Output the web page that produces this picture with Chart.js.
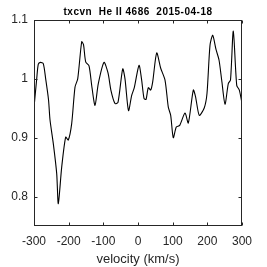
<!DOCTYPE html>
<html>
<head>
<meta charset="utf-8">
<script src="https://cdn.jsdelivr.net/npm/chart.js@4.4.1/dist/chart.umd.min.js"></script>
<style>
  html, body { margin: 0; padding: 0; background: #fff; }
  #wrap { width: 267px; height: 267px; }
</style>
</head>
<body>
<div id="wrap"><canvas id="spec" width="267" height="267"></canvas></div>
<script>
// He II 4686 profile
const velocity = [
  -298.6, -292.2, -287.6, -281.3, -273.2, -266.3, -258.2, -253.8, -244.3, -234.5,
  -229.9, -220.1, -208.6, -201.1, -191.3, -181.7, -173.9, -162.4, -157.2, -150.9,
  -141.3, -132.7, -124.0, -114.5, -98.1, -86.5, -77.9, -66.4, -57.7, -44.1,
  -37.5, -27.4, -18.2, -10.7, 2.9, 10.1, 17.3, 23.1, 29.7, 36.6,
  42.4, 53.9, 65.5, 77.9, 87.4, 94.3, 101.8, 110.5, 120.3, 135.6,
  145.1, 159.5, 165.9, 176.8, 191.3, 199.0, 207.7, 215.5, 225.0, 233.7,
  241.4, 251.0, 260.5, 266.8, 274.9, 284.8, 292.3, 299.2
];
const flux = [
  0.960, 1.000, 1.025, 1.028, 1.026, 1.000, 0.965, 0.930, 0.890, 0.839,
  0.788, 0.850, 0.901, 0.896, 0.924, 0.986, 1.000, 1.063, 1.058, 1.029,
  1.022, 0.985, 0.955, 0.992, 1.028, 1.010, 0.980, 0.958, 0.960, 1.017,
  1.000, 0.946, 0.972, 0.985, 1.023, 1.000, 0.967, 0.965, 0.985, 0.981,
  0.995, 1.044, 1.018, 0.998, 0.952, 0.938, 0.900, 0.918, 0.921, 0.942,
  0.925, 0.981, 0.970, 0.938, 0.951, 0.975, 1.057, 1.074, 1.050, 1.032,
  0.998, 0.957, 0.992, 0.998, 1.081, 0.989, 0.981, 0.961
];
const xTicks = [-300, -200, -100, 0, 100, 200, 300];
const yTicks = [0.8, 0.9, 1, 1.1];
const titleText = 'txcvn  He II 4686  2015-04-18';

const axisColor = '#262626';
const fontFamily = '"Liberation Sans", Arial, sans-serif';

// MATLAB style box with inward ticks on all four sides, plus the title
const boxTicks = {
  id: 'boxTicks',
  afterDraw(chart) {
    const { ctx, chartArea: a, scales } = chart;
    const L = Math.round(a.left) + 0.5, R = Math.round(a.right) - 0.5;
    const T = Math.round(a.top) + 0.5, B = Math.round(a.bottom) - 0.5;
    const len = 3;
    ctx.save();
    ctx.strokeStyle = axisColor;
    ctx.lineWidth = 1;
    ctx.strokeRect(L, T, R - L, B - T);
    ctx.beginPath();
    xTicks.forEach(v => {
      const x = Math.round(scales.x.getPixelForValue(v)) + 0.5;
      ctx.moveTo(x, B); ctx.lineTo(x, B - len);
      ctx.moveTo(x, T); ctx.lineTo(x, T + len);
    });
    yTicks.forEach(v => {
      const y = Math.round(scales.y.getPixelForValue(v)) + 0.5;
      ctx.moveTo(L, y); ctx.lineTo(L + len, y);
      ctx.moveTo(R, y); ctx.lineTo(R - len, y);
    });
    ctx.stroke();

    // title centred over the plot box
    ctx.fillStyle = '#000';
    ctx.font = 'bold 10px ' + fontFamily;
    if ('letterSpacing' in ctx) ctx.letterSpacing = '0.5px';
    ctx.textAlign = 'center';
    ctx.textBaseline = 'alphabetic';
    ctx.fillText(titleText, (a.left + a.right) / 2, 15);
    ctx.restore();
  }
};

new Chart(document.getElementById('spec'), {
  type: 'line',
  data: {
    datasets: [{
      data: velocity.map((v, i) => ({ x: v, y: flux[i] })),
      borderColor: '#000',
      borderWidth: 1.1,
      pointRadius: 0,
      tension: 0.25,
      fill: false
    }]
  },
  options: {
    responsive: false,
    animation: false,
    layout: { padding: { left: 0, right: 25, top: 20, bottom: 0 } },
    plugins: {
      legend: { display: false },
      tooltip: { enabled: false },
      title: { display: false }
    },
    scales: {
      x: {
        type: 'linear',
        min: -300, max: 300,
        afterBuildTicks: s => { s.ticks = xTicks.map(v => ({ value: v })); },
        afterFit: s => { s.height = 41; },
        grid: { display: false, drawTicks: false },
        border: { display: false },
        ticks: {
          color: axisColor, padding: 8, maxRotation: 0, autoSkip: false,
          font: { family: fontFamily, size: 12 },
          callback: v => String(v)
        },
        title: {
          display: true, text: 'velocity (km/s)', color: axisColor,
          font: { family: fontFamily, size: 13 },
          padding: { top: 0, bottom: 0 }
        }
      },
      y: {
        type: 'linear',
        min: 0.75, max: 1.1,
        afterBuildTicks: s => { s.ticks = yTicks.map(v => ({ value: v })); },
        afterFit: s => { s.width = 34; },
        grid: { display: false, drawTicks: false },
        border: { display: false },
        ticks: {
          color: axisColor, padding: 6, autoSkip: false,
          font: { family: fontFamily, size: 12 },
          callback: v => String(v)
        }
      }
    }
  },
  plugins: [boxTicks]
});
</script>
</body>
</html>
